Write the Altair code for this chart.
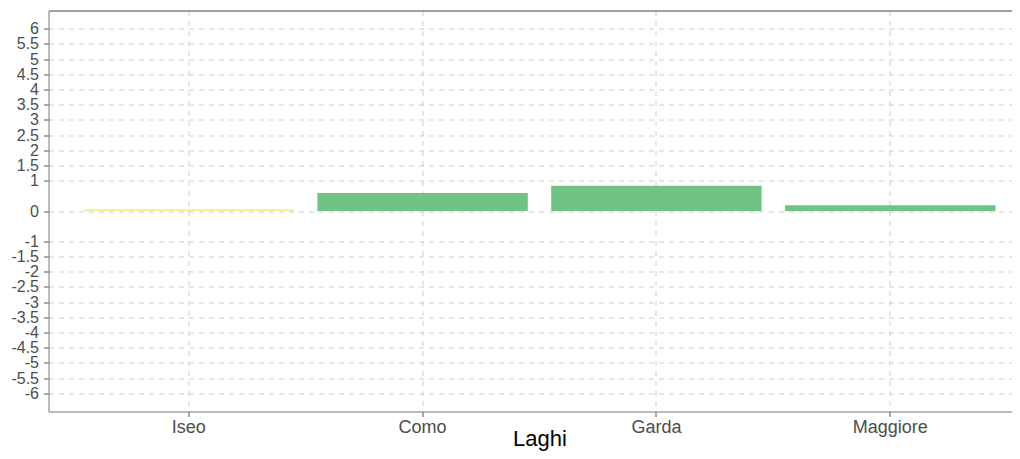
import altair as alt
import pandas as pd

laghi = ["Iseo", "Como", "Garda", "Maggiore"]
valori = [0.05, 0.59, 0.83, 0.19]
y_ticks = [6, 5.5, 5, 4.5, 4, 3.5, 3, 2.5, 2, 1.5, 1, 0,
           -1, -1.5, -2, -2.5, -3, -3.5, -4, -4.5, -5, -5.5, -6]

df = pd.DataFrame({"lago": laghi, "valore": valori})

FONT = "Liberation Sans"

x_scale = alt.Scale(paddingInner=0.1, paddingOuter=0.15)
y_scale = alt.Scale(domain=[-6.6, 6.6], nice=False, zero=False)

y_enc = alt.Y(
    "valore:Q",
    scale=y_scale,
    axis=alt.Axis(
        values=y_ticks, title=None, grid=True, gridDash=[5, 5],
        gridColor="#cfcfcf", gridWidth=1, tickSize=5, labelPadding=5,
        tickColor="#555555", domainColor="#8a8a8a", labelFontSize=16,
        labelColor="#4d4d4d", labelFont=FONT, labelOverlap=False,
        labelBaseline="middle", labelExpr="'' + datum.value",
    ),
)

bars = alt.Chart(df).mark_bar().encode(
    x=alt.X(
        "lago:N", sort=laghi, scale=x_scale,
        axis=alt.Axis(
            orient="bottom", title="Laghi", labelAngle=0, grid=True,
            gridDash=[5, 5], gridColor="#cfcfcf", bandPosition=0.5,
            tickSize=5, labelPadding=2, tickColor="#555555",
            domainColor="#8a8a8a", labelFontSize=18, labelColor="#4d4d4d",
            labelFont=FONT, titleFont=FONT, titleFontSize=22,
            titleFontWeight="normal", titleColor="#000000",
            titleBaseline="alphabetic", titleY=34,
        ),
    ),
    y=y_enc,
    color=alt.Color(
        "valore:Q",
        scale=alt.Scale(type="threshold", domain=[0.1],
                        range=["#ECE98F", "#71C383"]),
        legend=None,
    ),
)

top = bars.mark_bar(opacity=0).encode(
    x=alt.X(
        "lago:N", sort=laghi, scale=x_scale,
        axis=alt.Axis(orient="top", labels=False, ticks=False, grid=False,
                      title=None, domainColor="#555555", domainWidth=1),
    ),
)

chart = (
    alt.layer(bars, top)
    .resolve_axis(x="independent")
    .properties(
        width=982, height=401,
        autosize=alt.AutoSizeParams(type="none"),
        padding={"left": 40.5, "top": 2.5, "right": -18.5, "bottom": 39.5},
    )
    .configure_view(stroke=None)
    .configure(background="white")
)

chart.save("out.html", embed_options={"renderer": "svg", "actions": False})
